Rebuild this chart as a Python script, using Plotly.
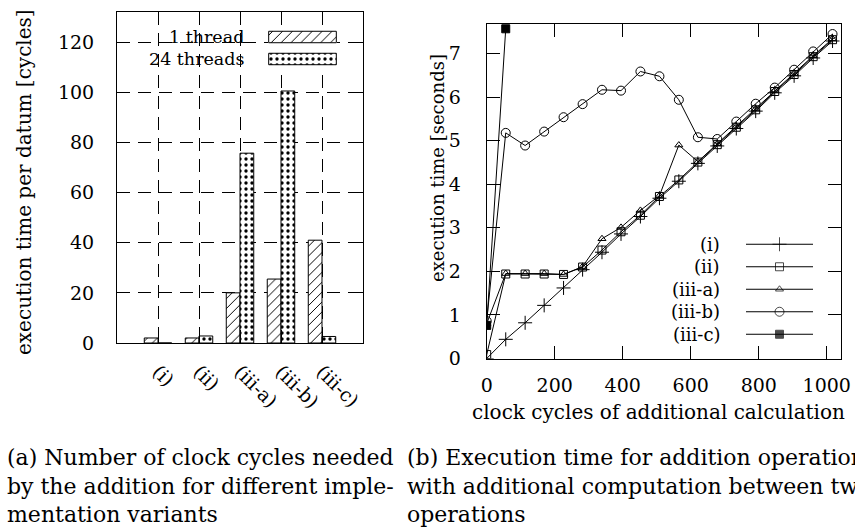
import plotly.graph_objects as go

# ---------------- data ----------------
categories = ["(i)", "(ii)", "(iii-a)", "(iii-b)", "(iii-c)"]
one_thread = [2.0, 2.0, 20.0, 25.5, 41.0]
threads_24 = [0.0, 2.8, 75.7, 100.5, 2.6]
bar_series_names = ["1 thread", "24 threads"]

cycles = [0, 56, 113, 169, 226, 282, 339, 395, 452, 508, 565, 621, 678, 734, 791, 847, 904, 960, 1017]
time_i = [0.0, 0.44, 0.82, 1.22, 1.62, 2.04, 2.44, 2.86, 3.26, 3.68, 4.07, 4.48, 4.88, 5.28, 5.68, 6.10, 6.49, 6.90, 7.29]
time_ii = [0.09, 1.94, 1.94, 1.94, 1.93, 2.10, 2.49, 2.91, 3.29, 3.72, 4.10, 4.51, 4.91, 5.31, 5.71, 6.13, 6.52, 6.93, 7.32]
time_iiia = [0.80, 1.95, 1.95, 1.95, 1.93, 2.11, 2.75, 3.01, 3.40, 3.74, 4.90, 4.52, 4.93, 5.33, 5.73, 6.15, 6.54, 6.95, 7.34]
time_iiib = [0.86, 5.18, 4.89, 5.21, 5.54, 5.84, 6.17, 6.15, 6.59, 6.48, 5.94, 5.08, 5.04, 5.44, 5.85, 6.22, 6.63, 7.05, 7.45]
cycles_iiic = [0, 56]
time_iiic = [0.76, 7.57]
line_series_names = ["(i)", "(ii)", "(iii-a)", "(iii-b)", "(iii-c)"]

left_ticks = [0, 20, 40, 60, 80, 100, 120]
right_yticks = [0, 1, 2, 3, 4, 5, 6, 7]
right_xticks = [0, 200, 400, 600, 800, 1000]

caption_a = ["(a) Number of clock cycles needed",
             "by the addition for different imple-",
             "mentation variants"]
caption_b = ["(b) Execution time for addition operations",
             "with additional computation between two",
             "operations"]

# ---------------- layout helpers ----------------
W, H = 855, 527
FONT = "DejaVu Serif"


def px_x(p):
    return p / W


def px_y(p):
    return 1 - p / H


fig = go.Figure()

# ---------------- left chart (bars) ----------------
hatch = dict(shape="/", fgcolor="black", bgcolor="white", size=7, solidity=0.14)
dots = dict(shape=".", fgcolor="black", bgcolor="white", size=6, solidity=0.25)

fig.add_trace(go.Bar(x=categories, y=one_thread, name=bar_series_names[0],
                     marker=dict(color="white", line=dict(color="black", width=1), pattern=hatch),
                     xaxis="x", yaxis="y", showlegend=False))
fig.add_trace(go.Bar(x=categories, y=threads_24, name=bar_series_names[1],
                     marker=dict(color="white", line=dict(color="black", width=1), pattern=dots),
                     xaxis="x", yaxis="y", showlegend=False))

# legend swatches (aux axes)
fig.add_trace(go.Bar(y=[1], x=[1], orientation="h", width=0.52,
                     marker=dict(color="white", line=dict(color="black", width=1), pattern=hatch),
                     xaxis="x3", yaxis="y3", showlegend=False, hoverinfo="skip"))
fig.add_trace(go.Bar(y=[0], x=[1], orientation="h", width=0.52,
                     marker=dict(color="white", line=dict(color="black", width=1), pattern=dots),
                     xaxis="x3", yaxis="y3", showlegend=False, hoverinfo="skip"))

# ---------------- right chart (lines) ----------------
line_style = dict(color="black", width=1)
specs = [
    (cycles, time_i, "cross-thin-open", 10),
    (cycles, time_ii, "square-open", 8),
    (cycles, time_iiia, "triangle-up-open", 7),
    (cycles, time_iiib, "circle-open", 9),
    (cycles_iiic, time_iiic, "square", 8),
]
for (xs, ys, sym, size), name in zip(specs, line_series_names):
    fig.add_trace(go.Scatter(x=xs, y=ys, mode="lines+markers", name=name,
                             line=line_style,
                             marker=dict(symbol=sym, size=size, color="black",
                                         line=dict(color="black", width=1)),
                             xaxis="x2", yaxis="y2", showlegend=False))

# legend samples (aux axes)
for idx, ((xs, ys, sym, size), name) in enumerate(zip(specs, line_series_names)):
    row = 4 - idx
    fig.add_trace(go.Scatter(x=[0, 0.5, 1], y=[row, row, row], mode="lines+markers",
                             line=line_style,
                             marker=dict(symbol=sym, size=[0, size, 0], color="black",
                                         line=dict(color="black", width=1)),
                             xaxis="x4", yaxis="y4", showlegend=False, hoverinfo="skip"))

axis_common = dict(showline=True, linecolor="black", linewidth=1, mirror="ticks",
                   ticks="inside", ticklen=13, tickcolor="black", tickwidth=1,
                   tickfont=dict(family=FONT, size=19, color="black"), zeroline=False,
                   automargin=False)

annotations = []
# left legend texts
for txt, yy in zip(bar_series_names, [37, 59]):
    annotations.append(dict(text=txt, x=px_x(246), y=px_y(yy), xref="paper", yref="paper",
                            xanchor="right", yanchor="middle", showarrow=False,
                            font=dict(family=FONT, size=17.5, color="black")))
# right legend texts
for txt, yy in zip(line_series_names, [244.25, 266.75, 289.25, 311.75, 334.25]):
    annotations.append(dict(text=txt, x=px_x(722), y=px_y(yy), xref="paper", yref="paper",
                            xanchor="right", yanchor="middle", showarrow=False,
                            font=dict(family=FONT, size=18, color="black")))
# axis titles
annotations.append(dict(text="execution time per datum [cycles]", x=px_x(24), y=px_y(182),
                        xref="paper", yref="paper", textangle=-90, showarrow=False,
                        xanchor="center", yanchor="middle",
                        font=dict(family=FONT, size=20, color="black")))
annotations.append(dict(text="execution time [seconds]", x=px_x(437), y=px_y(168),
                        xref="paper", yref="paper", textangle=-90, showarrow=False,
                        xanchor="center", yanchor="middle",
                        font=dict(family=FONT, size=18, color="black")))
annotations.append(dict(text="clock cycles of additional calculation", x=px_x(658), y=px_y(412),
                        xref="paper", yref="paper", showarrow=False,
                        xanchor="center", yanchor="middle",
                        font=dict(family=FONT, size=20, color="black")))
# captions
for lines, x0 in ((caption_a, 5), (caption_b, 405)):
    for line, yy in zip(lines, [457, 486, 514]):
        annotations.append(dict(text=line, x=px_x(x0), y=px_y(yy), xref="paper", yref="paper",
                                xanchor="left", yanchor="middle", showarrow=False,
                                font=dict(family=FONT, size=22, color="black")))

fig.update_layout(
    template="none",
    width=W, height=H,
    margin=dict(l=0, r=0, t=0, b=0, autoexpand=False),
    paper_bgcolor="white", plot_bgcolor="white",
    barmode="group", bargap=0.33, bargroupgap=0,
    xaxis=dict(domain=[px_x(117), px_x(363)], type="category", range=[-1, 5],
               showgrid=True, gridcolor="black", gridwidth=1, griddash="13px,8px",
               tickangle=45, ticklabelstandoff=9, anchor="y", **axis_common),
    yaxis=dict(domain=[px_y(343), px_y(12)], range=[0, 132], tickvals=left_ticks,
               showgrid=True, gridcolor="black", gridwidth=1, griddash="13px,8px",
               ticklabelstandoff=18, anchor="x", **axis_common),
    xaxis2=dict(domain=[px_x(486.7), px_x(840.7)], range=[0, 1041], tickvals=right_xticks,
                showgrid=False, ticklabelstandoff=10, anchor="y2", **axis_common),
    yaxis2=dict(domain=[px_y(358.5), px_y(24)], range=[0, 7.68], tickvals=right_yticks,
                showgrid=False, ticklabelstandoff=21, anchor="x2", **axis_common),
    xaxis3=dict(domain=[px_x(268), px_x(337)], range=[-0.01, 1.01], visible=False,
                anchor="y3", automargin=False),
    yaxis3=dict(domain=[px_y(70), px_y(26)], range=[-0.5, 1.5], visible=False,
                anchor="x3", automargin=False),
    xaxis4=dict(domain=[px_x(746), px_x(813)], range=[0, 1], visible=False,
                anchor="y4", automargin=False),
    yaxis4=dict(domain=[px_y(345.5), px_y(233)], range=[-0.5, 4.5], visible=False,
                anchor="x4", automargin=False),
    shapes=[dict(type="rect", xref="paper", yref="paper",
                 x0=px_x(150), x1=px_x(349), y0=px_y(70), y1=px_y(26),
                 fillcolor="white", line=dict(width=0), layer="between")],
    annotations=annotations,
    showlegend=False,
)

fig.write_html("out.html",
               config={"displayModeBar": False},
               post_script="document.body.style.margin='0px';document.body.style.overflow='hidden';")
